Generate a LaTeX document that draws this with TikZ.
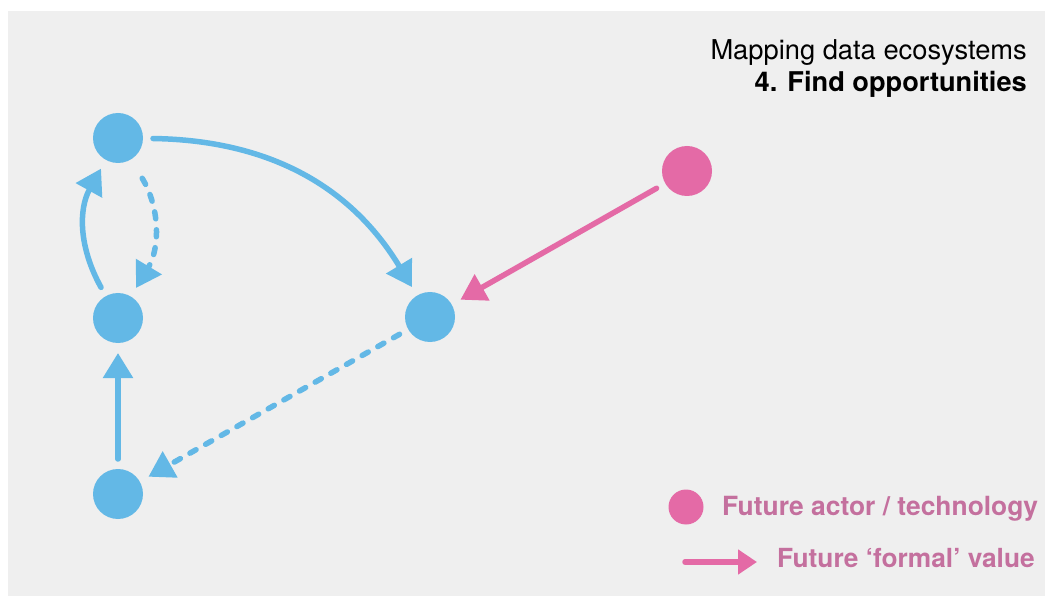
\documentclass[tikz,border=0pt]{standalone}
\usepackage{fontspec}
\setmainfont{TeX Gyre Heros}
\usetikzlibrary{arrows.meta}
\definecolor{actorblue}{RGB}{99,184,230}
\definecolor{futurepink}{RGB}{228,106,166}
\definecolor{legendpink}{RGB}{196,112,158}
\definecolor{slidegray}{RGB}{239,239,239}

\begin{document}
\begin{tikzpicture}[x=1pt, y=-1pt]
        \pgfdeclarelayer{nodelayer}
        \pgfdeclarelayer{edgelayer}
        \pgfsetlayers{main,nodelayer,edgelayer}
        \tikzstyle{actor}=[fill=actorblue, draw=none, shape=circle, inner sep=0pt, minimum size=50pt, outer sep=10pt]
        \tikzstyle{future actor}=[style=actor, fill=futurepink]
        \tikzstyle{label}=[fill=none, draw=none, inner sep=0pt]
        \tikzstyle{flow}=[-{Triangle[length=25pt,width=29pt]}, line width=5.5pt, draw=actorblue, line cap=round]
        %\tikzstyle{flow}=[->, thick]
        \tikzstyle{informal flow}=[style=flow, dash pattern=on 7pt off 11pt]
        \tikzstyle{future flow}=[style=flow, draw=futurepink]

        \useasboundingbox (0,0) rectangle (1053,596);
        \fill[slidegray] (8,11) rectangle (1045,596);

        \begin{pgfonlayer}{nodelayer}
            \node [style=actor] (1) at (118, 138) {};
            \node [style=actor] (2) at (118, 318) {};
            \node [style=actor] (3) at (118, 494) {};
            \node [style=actor] (4) at (430, 317) {};
            \node [style=future actor] (5) at (687, 171) {};
            \node [style=future actor, minimum size=35pt] (6) at (686, 507) {};
            \coordinate (8) at (685, 562);
            \coordinate (9) at (757, 562);
        \end{pgfonlayer}
        \begin{pgfonlayer}{edgelayer}
            \draw [style=flow] (1) to [bend left=29] (4);
            \draw [style=informal flow, shorten <=12pt] (1) to [bend left=31] (2);
            \draw [style=flow] (2) to [bend left=29] (1);
            \draw [style=flow] (3) to (2);
            \draw [style=informal flow] (4) to (3);
            \draw [style=future flow] (5) to (4);
            \draw [style=future flow, -{Triangle[length=19pt,width=24pt]}] (8) to (9);

            \node [style=label, anchor=base east] (11) at (1027, 60) {\fontsize{27.3}{32}\selectfont Mapping data ecosystems};
            \node [style=label, anchor=base east] (12) at (1027, 92) {\fontsize{27.2}{32}\selectfont\bfseries 4. Find opportunities};
            \node [style=label, anchor=base west, text=legendpink] (7) at (722, 515) {\fontsize{26.4}{30}\selectfont\bfseries Future actor / technology};
            \node [style=label, anchor=base west, text=legendpink] (10) at (777, 567) {\fontsize{26.3}{30}\selectfont\bfseries Future `formal' value};
        \end{pgfonlayer}
\end{tikzpicture}
\end{document}
